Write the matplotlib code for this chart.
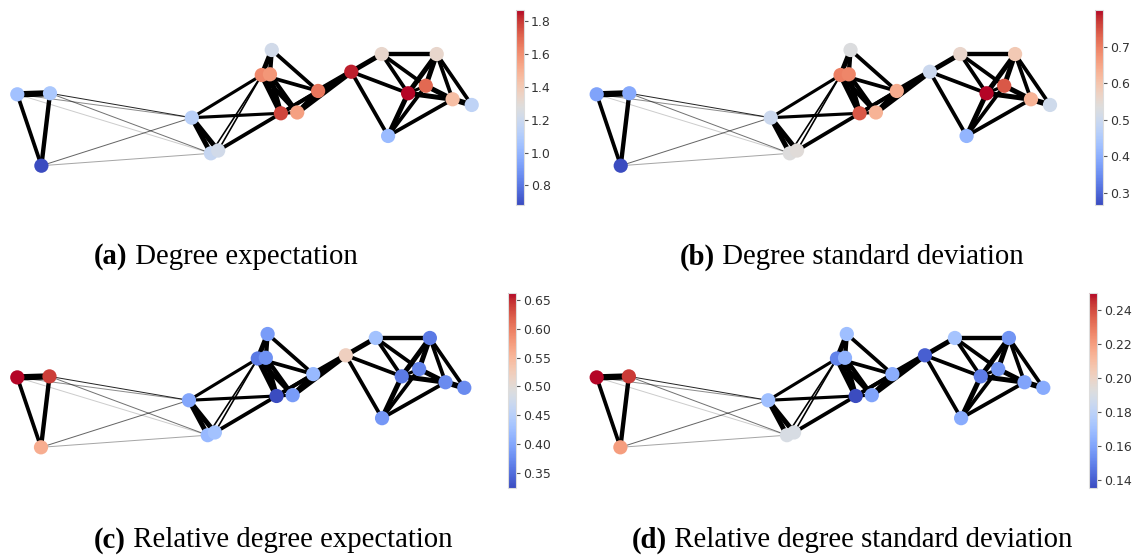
import numpy as np
import matplotlib
matplotlib.use("Agg")
import matplotlib.pyplot as plt
from matplotlib.collections import LineCollection
from matplotlib import colors, cm

# ---- graph layout (normalised spring-layout coordinates) ----
node_x = [0.000, 0.072, 0.053, 0.384, 0.426, 0.442, 0.560, 0.538, 0.556, 0.662,
          0.580, 0.616, 0.735, 0.802, 0.923, 0.860, 0.899, 0.958, 1.000, 0.816]
node_y = [0.617, 0.626, 0.000, 0.415, 0.107, 0.131, 1.000, 0.784, 0.790, 0.646,
          0.453, 0.460, 0.812, 0.965, 0.965, 0.626, 0.691, 0.574, 0.525, 0.257]

# edges as (source, target, weight); nodes numbered from 1
edge_src = [1, 1, 2, 2, 1, 2, 1, 3, 3,
            4, 4, 4, 4, 5, 6, 6,
            7, 7, 7, 8, 9, 8, 9, 8,
            10, 10, 11, 10, 12, 11,
            13, 13, 13, 14, 14, 14,
            15, 15, 15, 15, 16, 16, 17,
            18, 16, 17, 18]
edge_dst = [2, 3, 3, 4, 4, 5, 5, 4, 5,
            5, 6, 8, 11, 8, 8, 11,
            8, 9, 10, 11, 11, 12, 12, 10,
            11, 12, 12, 13, 13, 13,
            14, 16, 20, 15, 16, 17,
            16, 17, 18, 19, 17, 18, 18,
            19, 20, 20, 20]
edge_w = [5.0, 3.0, 3.5, 0.85, 0.45, 0.55, 0.2, 0.6, 0.35,
          4.0, 4.0, 2.5, 2.5, 1.3, 1.3, 3.0,
          4.0, 3.5, 3.0, 4.5, 4.0, 3.5, 3.5, 3.0,
          3.0, 3.5, 2.5, 4.5, 4.5, 3.0,
          4.0, 3.0, 3.0, 3.5, 3.0, 3.0,
          4.0, 4.0, 3.0, 3.0, 2.5, 4.0, 4.0,
          4.5, 4.0, 3.0, 3.0]

# ---- node statistics ----
degree_mean = [1.05, 1.08, 0.68, 1.13, 1.18, 1.22, 1.22, 1.62, 1.58, 1.67,
               1.78, 1.55, 1.84, 1.33, 1.33, 1.87, 1.70, 1.45, 1.15, 1.02]
degree_std = [0.38, 0.39, 0.267, 0.50, 0.535, 0.54, 0.53, 0.70, 0.69, 0.64,
              0.74, 0.63, 0.50, 0.56, 0.59, 0.80, 0.74, 0.63, 0.505, 0.41]
rel_degree_mean = [0.662, 0.64, 0.56, 0.40, 0.42, 0.43, 0.39, 0.36, 0.38, 0.42,
                   0.324, 0.39, 0.52, 0.43, 0.36, 0.36, 0.37, 0.375, 0.375, 0.385]
rel_degree_std = [0.25, 0.243, 0.22, 0.17, 0.19, 0.19, 0.17, 0.15, 0.165, 0.163,
                  0.135, 0.16, 0.14, 0.172, 0.155, 0.148, 0.155, 0.16, 0.162, 0.162]

cbar_ticks_a = [0.8, 1.0, 1.2, 1.4, 1.6, 1.8]
cbar_ticks_b = [0.3, 0.4, 0.5, 0.6, 0.7]
cbar_ticks_c = [0.35, 0.40, 0.45, 0.50, 0.55, 0.60, 0.65]
cbar_ticks_d = [0.14, 0.16, 0.18, 0.20, 0.22, 0.24]

tags = ["(a)", "(b)", "(c)", "(d)"]
titles = ["Degree expectation", "Degree standard deviation",
          "Relative degree expectation", "Relative degree standard deviation"]

# ---- figure ----
W, H = 1135, 556
fig = plt.figure(figsize=(W / 100, H / 100), dpi=100)
PX = 0.72  # points per pixel at 100 dpi
EDGE_SCALE = 1.25


def px_box(x0, y0, x1, y1):
    """Figure-fraction rectangle from pixel corners (y measured from top)."""
    return [x0 / W, 1 - y1 / H, (x1 - x0) / W, (y1 - y0) / H]


xs = np.array(node_x)
ys = np.array(node_y)
src = np.array(edge_src) - 1
dst = np.array(edge_dst) - 1
w = np.array(edge_w)
segments = np.stack([np.column_stack([xs[src], ys[src]]),
                     np.column_stack([xs[dst], ys[dst]])], axis=1)

panels = [
    dict(values=degree_mean, ticks=cbar_ticks_a, fmt="{:.1f}",
         graph=(17.3, 50, 471.7, 165.7), cbar=(516, 10, 524, 205),
         cap_left=94, cap_center=None, cap_y=257),
    dict(values=degree_std, ticks=cbar_ticks_b, fmt="{:.1f}",
         graph=(596.7, 50, 1050, 165.7), cbar=(1095, 10, 1103, 205),
         cap_left=None, cap_center=852, cap_y=257),
    dict(values=rel_degree_mean, ticks=cbar_ticks_c, fmt="{:.2f}",
         graph=(17.3, 334, 464.3, 447.3), cbar=(508, 293, 516, 488),
         cap_left=94, cap_center=None, cap_y=540),
    dict(values=rel_degree_std, ticks=cbar_ticks_d, fmt="{:.2f}",
         graph=(596.7, 334, 1043.3, 447.3), cbar=(1089, 293, 1097, 488),
         cap_left=None, cap_center=852, cap_y=540),
]

cmap = plt.get_cmap("coolwarm")
renderer = fig.canvas.get_renderer()

for p, tag, title in zip(panels, tags, titles):
    vals = np.array(p["values"])
    norm = colors.Normalize(vmin=vals.min(), vmax=vals.max())

    ax = fig.add_axes(px_box(*p["graph"]))
    ax.set_xlim(0, 1)
    ax.set_ylim(0, 1)
    ax.axis("off")

    heavy = w >= 1.0
    lw = np.where(heavy, w * EDGE_SCALE, 1.0) * PX
    alpha = np.minimum(w, 1.0)
    edge_cols = [(0, 0, 0, a) for a in alpha]
    lc = LineCollection(segments, linewidths=lw, colors=edge_cols,
                        zorder=1, clip_on=False, capstyle="butt")
    ax.add_collection(lc)
    ax.scatter(xs, ys, s=105, c=vals, cmap=cmap, norm=norm,
               edgecolors="none", zorder=2, clip_on=False)

    cax = fig.add_axes(px_box(*p["cbar"]))
    sm = cm.ScalarMappable(norm=norm, cmap=cmap)
    cb = fig.colorbar(sm, cax=cax)
    cb.outline.set_edgecolor("#dddddd")
    cb.outline.set_linewidth(0.8)
    cb.set_ticks(p["ticks"])
    cb.set_ticklabels([p["fmt"].format(t) for t in p["ticks"]])
    cax.tick_params(axis="y", length=3, width=0.8, color="#555555",
                    labelsize=9, labelcolor="#333333", pad=2)

    # caption: bold tag followed by regular title
    y = 1 - p["cap_y"] / H
    t1 = fig.text(0, y, tag, fontsize=20.7, fontweight="bold",
                  family="Liberation Serif", va="center", ha="left")
    t2 = fig.text(0, y, " " + title, fontsize=20.7,
                  family="Liberation Serif", va="center", ha="left")
    w1 = t1.get_window_extent(renderer).width
    w2 = t2.get_window_extent(renderer).width
    if p["cap_left"] is not None:
        x0 = p["cap_left"]
    else:
        x0 = p["cap_center"] - (w1 + w2) / 2
    t1.set_x(x0 / W)
    t2.set_x((x0 + w1) / W)

fig.savefig("out.png", dpi=100)
